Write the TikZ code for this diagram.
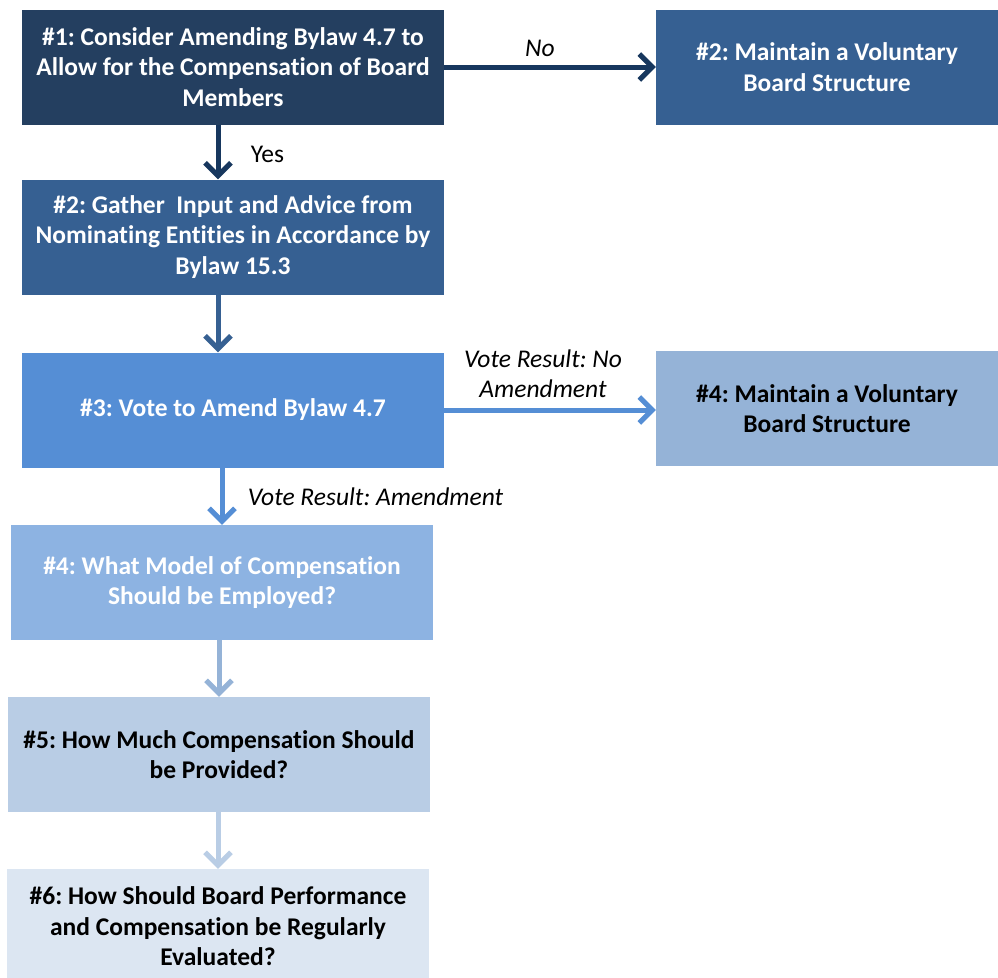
\documentclass[tikz,border=0pt]{standalone}
\usepackage{fontspec}
\setmainfont{Carlito}[Ligatures=NoCommon]
\usepackage{xcolor}
\usepackage{tikz}
\usetikzlibrary{positioning,arrows.meta}

\definecolor{navy}{HTML}{243F60}
\definecolor{navyline}{HTML}{17375E}
\definecolor{steel}{HTML}{366092}
\definecolor{midblue}{HTML}{558ED5}
\definecolor{lightblue}{HTML}{8DB3E2}
\definecolor{paleblue}{HTML}{95B3D7}
\definecolor{paleblueB}{HTML}{B9CDE5}
\definecolor{faintblue}{HTML}{DCE6F2}

\frenchspacing

\begin{document}
\begin{tikzpicture}[x=1pt, y=-1pt,
  box/.style={rectangle, minimum width=422pt, minimum height=115pt, inner sep=0pt, align=center, font=\fontsize{25.5}{30.5}\selectfont\bfseries},
  sidebox/.style={box, minimum width=342pt},
  flow/.style={-{Straight Barb[length=13pt, width=26pt]}, line width=5pt},
  lbl/.style={text=black, font=\fontsize{25.5}{30.5}\selectfont\itshape, align=center}
]
\clip (0,0) rectangle (998,977);

% Main column
\node[box, fill=navy, text=white] (B1) at (233,67) {\#1: Consider Amending Bylaw 4.7 to\\Allow for the Compensation of Board\\Members};
\node[box, fill=steel, text=white] (B2) at (233,237) {\#2: Gather\ \ Input and Advice from\\Nominating Entities in Accordance by\\Bylaw 15.3};
\node[box, fill=midblue, text=white] (B3) at (233,410) {\#3: Vote to Amend Bylaw 4.7};
\node[box, fill=lightblue, text=white] (B4) at (222,582.5) {\#4: What Model of Compensation\\Should be Employed?};
\node[box, fill=paleblueB, text=black] (B5) at (219,754.5) {\#5: How Much Compensation Should\\be Provided?};
\node[box, fill=faintblue, text=black] (B6) at (218,926.5) {\#6: How Should Board Performance\\and Compensation be Regularly\\Evaluated?};

% Side outcomes
\node[sidebox, fill=steel, text=white] (R2) at (827,67) {\#2: Maintain a Voluntary\\Board Structure};
\node[sidebox, fill=paleblue, text=black] (R4) at (827,408.5) {\#4: Maintain a Voluntary\\Board Structure};

% Arrows down
\draw[flow, navyline] ([xshift=-15pt]B1.south) -- ([xshift=-15pt]B2.north) node[midway, right=27pt, yshift=-2pt, text=black, font=\fontsize{25.5}{30.5}\selectfont]{Yes};
\draw[flow, steel] ([xshift=-15pt]B2.south) -- ([xshift=-15pt]B3.north);
\draw[flow, midblue] (B4.north |- B3.south) -- (B4.north) node[midway, right=20pt, lbl]{Vote Result: Amendment};
\draw[flow, paleblue] (B5.north |- B4.south) -- (B5.north);
\draw[flow, paleblueB] (B6.north |- B5.south) -- (B6.north);

% Arrows across
\draw[flow, navyline] (B1.east) -- (R2.west) node[midway, above=4pt, xshift=-10pt, lbl]{No};
\draw[flow, midblue] (B3.east) -- (R4.west |- B3.east) node[midway, above=6pt, xshift=-7pt, lbl]{Vote Result: No\\Amendment};

\end{tikzpicture}
\end{document}
